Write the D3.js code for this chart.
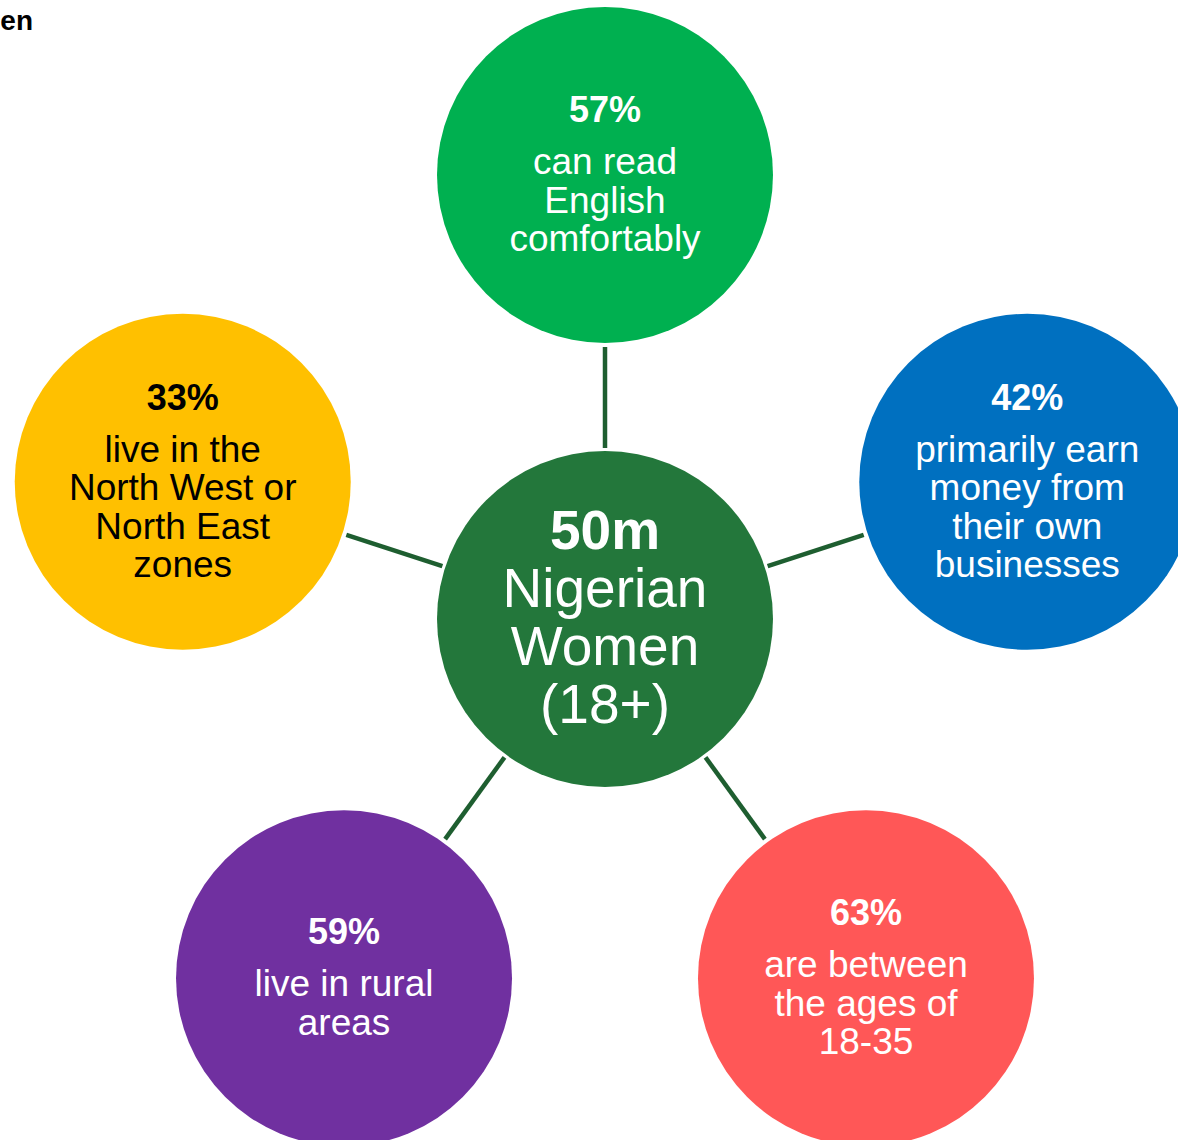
<!DOCTYPE html>
<html>
<head>
<meta charset="utf-8">
<script src="https://cdn.jsdelivr.net/npm/d3@7"></script>
<style>
  html, body { margin: 0; padding: 0; background: #ffffff; }
  svg { display: block; }
  text { font-family: "Liberation Sans", Arial, sans-serif; }
</style>
</head>
<body>
<svg id="chart" width="1178" height="1140"></svg>
<script>
// Hub figure
const hubFigure = "50m";
const hubLines = ["Nigerian", "Women", "(18+)"];

// Satellite facts, clockwise from the top
const factStats = ["57%", "42%", "63%", "59%", "33%"];
const factLines = [
  ["can read", "English", "comfortably"],
  ["primarily earn", "money from", "their own", "businesses"],
  ["are between", "the ages of", "18-35"],
  ["live in rural", "areas"],
  ["live in the", "North West or", "North East", "zones"]
];
const factColors = ["#00B050", "#0070C0", "#FF5757", "#7030A0", "#FFC000"];
const factTextColors = ["#ffffff", "#ffffff", "#ffffff", "#ffffff", "#000000"];

const titleText = "en";

const svg = d3.select("#chart");

const cx = 605, cy = 619;
const orbit = 444;
const bubbleR = 168;

// Angle for each satellite, spread evenly starting at 12 o'clock
const angle = d3.scaleLinear()
  .domain([0, factStats.length])
  .range([-Math.PI / 2, 3 * Math.PI / 2]);

// Radial distance scale for connectors
const radial = d3.scaleLinear().domain([0, 1]).range([0, orbit]);

const facts = factStats.map((s, i) => ({
  stat: s,
  lines: factLines[i],
  color: factColors[i],
  textColor: factTextColors[i],
  a: angle(i)
}));

// Title fragment
svg.append("text")
  .attr("x", 33).attr("y", 30)
  .attr("text-anchor", "end")
  .attr("font-size", 28)
  .attr("font-weight", "bold")
  .attr("fill", "#000")
  .text(titleText);

// Connectors between hub and satellites
svg.selectAll("line.link")
  .data(facts)
  .join("line")
  .attr("class", "link")
  .attr("x1", d => cx + radial(171 / orbit) * Math.cos(d.a))
  .attr("y1", d => cy + radial(171 / orbit) * Math.sin(d.a))
  .attr("x2", d => cx + radial(272 / orbit) * Math.cos(d.a))
  .attr("y2", d => cy + radial(272 / orbit) * Math.sin(d.a))
  .attr("stroke", "#1E5E30")
  .attr("stroke-width", 4.5);

// Satellite bubbles
const sat = svg.selectAll("g.fact")
  .data(facts)
  .join("g")
  .attr("class", "fact")
  .attr("transform", d => `translate(${cx + radial(1) * Math.cos(d.a)},${cy + radial(1) * Math.sin(d.a)})`);

sat.append("circle")
  .attr("r", bubbleR)
  .attr("fill", d => d.color);

const lineGap = 38.5;
sat.each(function (d) {
  const g = d3.select(this);
  const n = d.lines.length;
  const statY = -53 - (n - 3) * lineGap / 2;
  g.append("text")
    .attr("y", statY)
    .attr("text-anchor", "middle")
    .attr("font-size", 36)
    .attr("font-weight", "bold")
    .attr("fill", d.textColor)
    .text(d.stat);
  g.selectAll("text.body")
    .data(d.lines)
    .join("text")
    .attr("class", "body")
    .attr("y", (t, i) => statY + 52 + i * lineGap)
    .attr("text-anchor", "middle")
    .attr("font-size", 37)
    .attr("fill", d.textColor)
    .text(t => t);
});

// Hub bubble
const hub = svg.append("g").attr("transform", `translate(${cx},${cy})`);
hub.append("circle").attr("r", bubbleR).attr("fill", "#23773B");
hub.append("text")
  .attr("y", -70)
  .attr("text-anchor", "middle")
  .attr("font-size", 55)
  .attr("font-weight", "bold")
  .attr("fill", "#fff")
  .text(hubFigure);
hub.selectAll("text.hubline")
  .data(hubLines)
  .join("text")
  .attr("class", "hubline")
  .attr("y", (t, i) => -12 + i * 58)
  .attr("text-anchor", "middle")
  .attr("font-size", 55)
  .attr("fill", "#fff")
  .text(t => t);
</script>
</body>
</html>
